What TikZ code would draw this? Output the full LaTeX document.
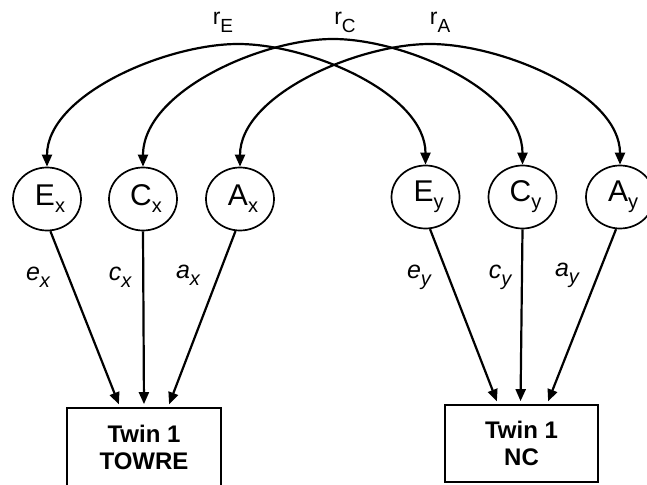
\documentclass[tikz,border=0pt]{standalone}
\usepackage{fontspec}
\setmainfont{Liberation Sans}
\usetikzlibrary{shapes.geometric,arrows.meta}
\newcommand{\latvar}[2]{\hspace*{6pt}{\fontsize{30}{30}\selectfont #1}\raisebox{-7pt}{\fontsize{20}{20}\selectfont #2}}
\newcommand{\corrlbl}[1]{{\fontsize{23}{23}\selectfont r}\raisebox{-8pt}{\fontsize{19}{19}\selectfont #1}}
\newcommand{\pathlbl}[2]{{\fontsize{25}{25}\selectfont\itshape #1}\raisebox{-7pt}{\fontsize{20}{20}\selectfont\itshape #2}}
\begin{document}
\begin{tikzpicture}[x=1pt,y=-1pt,line width=2.2pt,
  lat/.style={ellipse,draw,line width=1.7pt,minimum width=68pt,minimum height=63pt,inner sep=0pt},
  obs/.style={rectangle,draw,line width=1.7pt,minimum width=154pt,minimum height=78pt,align=center,
    font=\fontsize{24}{27}\selectfont\bfseries},
  tip/.style={-{Triangle[length=12pt,width=10pt]},shorten >=3pt},
  dbl/.style={{Triangle[length=12pt,width=10pt]}-{Triangle[length=12pt,width=10pt]}},
  lbl/.style={inner sep=0pt}]
\useasboundingbox (0,0) rectangle (647,484);
% latent variables
\node[lat] (Ex) at (47,199) {\latvar{E}{x}};
\node[lat] (Cx) at (143,199) {\latvar{C}{x}};
\node[lat] (Ax) at (240,199) {\latvar{A}{x}};
\node[lat] (Ey) at (425.5,197) {\latvar{E}{y}};
\node[lat] (Cy) at (522.5,197) {\latvar{C}{y}};
\node[lat] (Ay) at (620,197) {\latvar{A}{y}};
% observed
\node[obs] (T) at (144,447) {Twin 1\\TOWRE};
\node[obs,minimum width=153pt,minimum height=77pt] (N) at (521.5,443.5) {Twin 1\\NC};
% arc peaks
\coordinate (pE) at (238,44);
\coordinate (pC) at (333,39);
\coordinate (pA) at (430,44);
% correlations
\draw[dbl] (Ex.north) .. controls +(0,-72) and +(-72,0) .. (pE) .. controls +(72,0) and +(0,-71) .. (Ey.north);
\draw[dbl] (Cx.north) .. controls +(0,-75) and +(-72,0) .. (pC) .. controls +(72,0) and +(0,-74) .. (Cy.north);
\draw[dbl] (Ax.north) .. controls +(0,-72) and +(-72,0) .. (pA) .. controls +(72,0) and +(0,-71) .. (Ay.north);
\node[lbl] (rE) at (223,22) {\corrlbl{E}};
\node[lbl] (rC) at (345,22) {\corrlbl{C}};
\node[lbl] (rA) at (440,22) {\corrlbl{A}};
% paths
\draw[tip] (Ex.-84) -- ([xshift=-24pt]T.north);
\draw[tip] (Cx.south) -- (T.north);
\draw[tip] (Ax.-98) -- ([xshift=24pt]T.north);
\draw[tip] (Ey.-82) -- ([xshift=-23.5pt]N.north);
\draw[tip] (Cy.south) -- ([xshift=-1pt]N.north);
\draw[tip] (Ay.-97) -- ([xshift=25.5pt]N.north);
\node[lbl] (le) at (38,277) {\pathlbl{e}{x}};
\node[lbl] (lc) at (120,277) {\pathlbl{c}{x}};
\node[lbl] (la) at (188,275) {\pathlbl{a}{x}};
\node[lbl] (ley) at (419,277) {\pathlbl{e}{y}};
\node[lbl] (lcy) at (500,277) {\pathlbl{c}{y}};
\node[lbl] (lay) at (567,275) {\pathlbl{a}{y}};
\end{tikzpicture}
\end{document}
